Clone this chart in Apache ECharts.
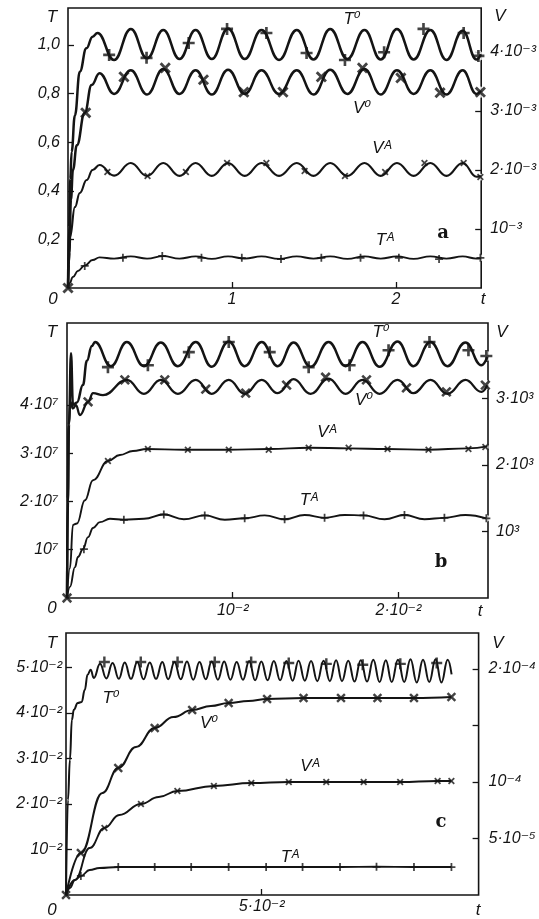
<!DOCTYPE html>
<html lang="en">
<head>
<meta charset="UTF-8">
<title>T, V (t)</title>
<script src="https://cdn.jsdelivr.net/npm/echarts@6/dist/echarts.min.js"></script>
<style>
  html, body { margin: 0; background: #fff; }
  #box { width: 539px; height: 919px; }
</style>
</head>
<body>
<div id="box"></div>
<script>
// ---- panel a ----
var aT0 = [[0,0],[0.006,0.25],[0.014,0.45],[0.022,0.56],[0.042,0.71],[0.072,0.89],[0.112,0.986],[0.150,1.034],[0.180,1.049],
  [0.281,0.938],[0.383,1.066],[0.482,0.945],[0.581,1.062],[0.680,0.942],[0.778,1.062],[0.877,0.942],[0.976,1.068],[1.078,0.942],
  [1.180,1.062],[1.287,0.938],[1.395,1.062],[1.497,0.940],[1.599,1.066],[1.704,0.942],[1.808,1.062],[1.907,0.940],[2.006,1.066],
  [2.108,0.940],[2.210,1.062],[2.308,0.938],[2.407,1.058],[2.491,0.940],[2.518,0.962]];
var aT0Marks = [[0.251,0.959],[0.479,0.947],[0.736,1.008],[0.970,1.066],[1.210,1.049],[1.455,0.967],[1.689,0.938],[1.928,0.970],[2.168,1.066],[2.413,1.049],[2.503,0.955]];
var aV0 = [[0,0],[0.008,0.6e-3],[0.018,1.5e-3],[0.030,2.0e-3],[0.054,2.42e-3],[0.102,2.97e-3],[0.144,3.44e-3],[0.192,3.64e-3],
  [0.281,3.29e-3],[0.383,3.69e-3],[0.482,3.28e-3],[0.581,3.71e-3],[0.680,3.29e-3],[0.778,3.69e-3],[0.877,3.28e-3],[0.976,3.70e-3],
  [1.078,3.29e-3],[1.180,3.69e-3],[1.287,3.29e-3],[1.395,3.69e-3],[1.497,3.28e-3],[1.599,3.70e-3],[1.704,3.29e-3],[1.808,3.71e-3],
  [1.907,3.28e-3],[2.006,3.69e-3],[2.108,3.29e-3],[2.210,3.69e-3],[2.308,3.28e-3],[2.407,3.69e-3],[2.491,3.29e-3],[2.518,3.34e-3]];
var aV0Marks = [[0,0],[0.108,2.97e-3],[0.341,3.58e-3],[0.593,3.73e-3],[0.826,3.53e-3],[1.072,3.32e-3],[1.311,3.32e-3],[1.545,3.58e-3],[1.796,3.73e-3],[2.030,3.56e-3],[2.269,3.31e-3],[2.515,3.32e-3]];
var aVA = [[0,0],[0.006,0.4e-3],[0.012,0.86e-3],[0.042,1.37e-3],[0.072,1.61e-3],[0.114,1.83e-3],[0.150,2.0e-3],[0.192,2.085e-3],
  [0.281,1.905e-3],[0.383,2.12e-3],[0.482,1.898e-3],[0.581,2.12e-3],[0.680,1.90e-3],[0.778,2.12e-3],[0.877,1.90e-3],[0.976,2.12e-3],
  [1.078,1.90e-3],[1.180,2.12e-3],[1.287,1.90e-3],[1.395,2.12e-3],[1.497,1.90e-3],[1.599,2.12e-3],[1.704,1.898e-3],[1.808,2.12e-3],
  [1.907,1.90e-3],[2.006,2.12e-3],[2.108,1.90e-3],[2.210,2.12e-3],[2.308,1.90e-3],[2.407,2.12e-3],[2.491,1.885e-3],[2.518,1.90e-3]];
var aVAMarks = [[0.240,1.966e-3],[0.485,1.898e-3],[0.719,1.966e-3],[0.970,2.119e-3],[1.210,2.119e-3],[1.443,1.983e-3],[1.689,1.898e-3],[1.934,1.966e-3],[2.174,2.119e-3],[2.413,2.119e-3],[2.515,1.881e-3]];
var aTA = [[0,0],[0.010,0.02],[0.030,0.045],[0.060,0.07],[0.102,0.092],[0.150,0.115],[0.192,0.126],[0.281,0.121],[0.383,0.130],
  [0.482,0.121],[0.581,0.131],[0.680,0.121],[0.778,0.130],[0.877,0.120],[0.976,0.130],[1.078,0.121],[1.180,0.130],[1.287,0.120],
  [1.395,0.130],[1.497,0.121],[1.599,0.130],[1.704,0.120],[1.808,0.130],[1.907,0.121],[2.006,0.130],[2.108,0.120],[2.210,0.130],
  [2.308,0.121],[2.407,0.130],[2.491,0.121],[2.518,0.123]];
var aTAMarks = [[0.102,0.091],[0.335,0.124],[0.575,0.132],[0.814,0.124],[1.060,0.124],[1.299,0.119],[1.545,0.124],[1.784,0.124],[2.018,0.124],[2.263,0.119],[2.515,0.124]];

// ---- panel b ----
var bT0 = [[0,0],[0.00006,2.0e7],[0.00012,3.6e7],[0.00024,5.07e7],[0.00036,4.0e7],[0.0006,4.05e7],[0.00096,4.41e7],[0.0012,4.91e7],[0.0015,5.22e7],[0.00169,5.30e7],
  [0.00265,4.80e7],[0.00361,5.30e7],[0.00464,4.80e7],[0.00566,5.29e7],[0.00669,4.80e7],[0.00777,5.30e7],[0.00873,4.79e7],[0.00976,5.31e7],
  [0.01072,4.80e7],[0.01175,5.30e7],[0.01271,4.80e7],[0.01367,5.29e7],[0.0147,4.79e7],[0.01578,5.30e7],[0.01681,4.80e7],[0.01783,5.30e7],
  [0.01886,4.79e7],[0.01994,5.31e7],[0.0209,4.80e7],[0.02193,5.30e7],[0.02295,4.80e7],[0.02404,5.29e7],[0.0250,4.82e7],[0.02536,4.99e7]];
var bT0Marks = [[0.00247,4.78e7],[0.00488,4.82e7],[0.00735,5.09e7],[0.00976,5.30e7],[0.01223,5.09e7],[0.01458,4.78e7],[0.01705,4.82e7],[0.0194,5.13e7],[0.02187,5.30e7],[0.02422,5.13e7],[0.0253,5.01e7]];
var bV0 = [[0,0],[0.00004,1.5e3],[0.0001,2.6e3],[0.0002,2.95e3],[0.00036,2.85e3],[0.00054,2.9e3],[0.00078,2.75e3],[0.00127,2.95e3],[0.00157,3.08e3],[0.00217,3.05e3],
  [0.00361,3.28e3],[0.00464,3.07e3],[0.00566,3.28e3],[0.00669,3.07e3],[0.00777,3.28e3],[0.00873,3.07e3],[0.00976,3.28e3],[0.01072,3.07e3],
  [0.01175,3.28e3],[0.01271,3.08e3],[0.01367,3.29e3],[0.0147,3.07e3],[0.01578,3.30e3],[0.01681,3.07e3],[0.01783,3.28e3],[0.01886,3.07e3],
  [0.01994,3.28e3],[0.0209,3.08e3],[0.02193,3.28e3],[0.02295,3.07e3],[0.02404,3.28e3],[0.0250,3.10e3],[0.02536,3.20e3]];
var bV0Marks = [[0,0],[0.00127,2.95e3],[0.00349,3.28e3],[0.0059,3.28e3],[0.00837,3.14e3],[0.01078,3.08e3],[0.01325,3.20e3],[0.0156,3.32e3],[0.01807,3.28e3],[0.02048,3.16e3],[0.02289,3.10e3],[0.02524,3.20e3]];
var bVA = [[0,0],[0.00018,0.45e3],[0.00036,1.1e3],[0.0006,1.12e3],[0.00108,1.47e3],[0.00157,1.77e3],[0.00247,2.06e3],[0.00319,2.15e3],[0.00398,2.21e3],
  [0.00482,2.24e3],[0.0070,2.23e3],[0.0097,2.23e3],[0.0122,2.24e3],[0.0146,2.26e3],[0.0170,2.25e3],[0.0193,2.24e3],[0.0218,2.23e3],[0.0242,2.25e3],[0.02536,2.28e3]];
var bVAMarks = [[0.00247,2.06e3],[0.00488,2.24e3],[0.00729,2.23e3],[0.00976,2.23e3],[0.01217,2.23e3],[0.01458,2.26e3],[0.01699,2.26e3],[0.01934,2.24e3],[0.02181,2.23e3],[0.02422,2.24e3],[0.02524,2.27e3]];
var bTA = [[0,0],[0.00018,0.23e7],[0.00048,0.64e7],[0.00066,0.85e7],[0.00096,1.01e7],[0.00127,1.26e7],[0.00157,1.45e7],[0.00199,1.57e7],[0.00259,1.64e7],
  [0.00343,1.62e7],[0.00464,1.64e7],[0.00584,1.73e7],[0.00705,1.63e7],[0.00831,1.71e7],[0.00952,1.62e7],[0.01072,1.65e7],[0.01193,1.71e7],
  [0.01313,1.63e7],[0.01434,1.72e7],[0.01554,1.66e7],[0.01675,1.72e7],[0.01789,1.71e7],[0.01916,1.63e7],[0.02036,1.72e7],[0.02157,1.63e7],
  [0.02277,1.66e7],[0.02404,1.72e7],[0.0253,1.65e7]];
var bTAMarks = [[0.00102,1.01e7],[0.00343,1.62e7],[0.00584,1.73e7],[0.00831,1.71e7],[0.01072,1.65e7],[0.01313,1.63e7],[0.01554,1.66e7],[0.01789,1.71e7],[0.02036,1.72e7],[0.02277,1.66e7],[0.0253,1.65e7]];

// ---- panel c ----
var cT0 = [[0,0],[0.0005,2.09e-2],[0.001,2.97e-2],[0.0015,3.85e-2],[0.002,4.07e-2],[0.003,4.22e-2],[0.004,4.24e-2],[0.0048,4.51e-2],[0.0055,4.84e-2],[0.0063,4.95e-2],[0.0071,4.77e-2],
  [0.0087,5.08e-2],[0.0103,4.76e-2],[0.0119,5.10e-2],[0.0135,4.75e-2],[0.0150,5.11e-2],[0.0166,4.75e-2],[0.0182,5.12e-2],[0.0198,4.74e-2],
  [0.0214,5.11e-2],[0.0230,4.75e-2],[0.0246,5.12e-2],[0.0261,4.74e-2],[0.0277,5.12e-2],[0.0293,4.74e-2],[0.0309,5.13e-2],[0.0325,4.73e-2],
  [0.0341,5.12e-2],[0.0357,4.74e-2],[0.0372,5.13e-2],[0.0388,4.73e-2],[0.0404,5.13e-2],[0.0420,4.73e-2],[0.0436,5.12e-2],[0.0452,4.73e-2],
  [0.0468,5.14e-2],[0.0483,4.72e-2],[0.0499,5.13e-2],[0.0515,4.72e-2],[0.0531,5.14e-2],[0.0547,4.72e-2],[0.0563,5.14e-2],[0.0579,4.71e-2],
  [0.0594,5.15e-2],[0.0610,4.71e-2],[0.0626,5.14e-2],[0.0642,4.70e-2],[0.0658,5.15e-2],[0.0674,4.70e-2],[0.0690,5.16e-2],[0.0705,4.70e-2],
  [0.0721,5.15e-2],[0.0737,4.69e-2],[0.0753,5.16e-2],[0.0769,4.69e-2],[0.0785,5.17e-2],[0.0801,4.68e-2],[0.0817,5.16e-2],[0.0832,4.68e-2],
  [0.0848,5.17e-2],[0.0864,4.68e-2],[0.0880,5.18e-2],[0.0896,4.67e-2],[0.0912,5.17e-2],[0.0928,4.68e-2],[0.0944,5.18e-2],[0.0959,4.67e-2],
  [0.0975,5.17e-2],[0.0985,4.85e-2]];
var cT0Marks = [[0.0098,5.12e-2],[0.0191,5.12e-2],[0.0285,5.12e-2],[0.0380,5.12e-2],[0.0473,5.12e-2],[0.0569,5.10e-2],[0.0665,5.08e-2],[0.0758,5.06e-2],[0.0854,5.08e-2],[0.0947,5.10e-2]];
var cV0 = [[0,0],[0.0038,0.372e-4],[0.0093,0.903e-4],[0.01335,1.124e-4],[0.01788,1.31e-4],[0.02266,1.478e-4],[0.02745,1.575e-4],[0.03223,1.637e-4],
  [0.03701,1.673e-4],[0.04155,1.699e-4],[0.04658,1.717e-4],[0.05137,1.735e-4],[0.06068,1.743e-4],[0.07025,1.743e-4],[0.07957,1.743e-4],[0.08889,1.743e-4],[0.09846,1.752e-4]];
var cV0Marks = [[0,0],[0.0038,0.372e-4],[0.01335,1.124e-4],[0.02266,1.478e-4],[0.03223,1.637e-4],[0.04155,1.699e-4],[0.05137,1.735e-4],[0.06068,1.743e-4],[0.07025,1.743e-4],[0.07957,1.743e-4],[0.08889,1.743e-4],[0.09846,1.752e-4]];
var cVA = [[0,0],[0.00227,0.133e-4],[0.00604,0.416e-4],[0.00982,0.593e-4],[0.0136,0.708e-4],[0.01914,0.805e-4],[0.02367,0.867e-4],[0.02845,0.920e-4],
  [0.03777,0.965e-4],[0.04734,0.991e-4],[0.05691,1.0e-4],[0.06648,1.0e-4],[0.07604,1.0e-4],[0.08536,1.0e-4],[0.09493,1.009e-4],[0.09845,1.009e-4]];
var cVAMarks = [[0.00982,0.593e-4],[0.01914,0.805e-4],[0.02845,0.920e-4],[0.03777,0.965e-4],[0.04734,0.991e-4],[0.05691,1.0e-4],[0.06648,1.0e-4],[0.07604,1.0e-4],[0.08536,1.0e-4],[0.09493,1.009e-4],[0.09845,1.009e-4]];
var cTA = [[0,0],[0.001,0.154e-2],[0.00227,0.33e-2],[0.0038,0.418e-2],[0.00604,0.55e-2],[0.00856,0.593e-2],[0.01335,0.615e-2],[0.02266,0.615e-2],
  [0.03198,0.615e-2],[0.04155,0.615e-2],[0.05112,0.615e-2],[0.06043,0.615e-2],[0.07,0.615e-2],[0.07932,0.62e-2],[0.08889,0.615e-2],[0.09846,0.615e-2]];
var cTAMarks = [[0.0038,0.418e-2],[0.01335,0.615e-2],[0.02266,0.615e-2],[0.03198,0.615e-2],[0.04155,0.615e-2],[0.05112,0.615e-2],[0.06043,0.615e-2],[0.07,0.615e-2],[0.07932,0.62e-2],[0.08889,0.615e-2],[0.09846,0.615e-2]];

// ---- ticks and tick labels ----
var aXTicks = [1, 2], aXLabels = ['1', '2'];
var aLTicks = [0.2, 0.4, 0.6, 0.8, 1.0], aLLabels = ['0,2', '0,4', '0,6', '0,8', '1,0'];
var aRTicks = [1e-3, 2e-3, 3e-3, 4e-3], aRLabels = ['10⁻³', '2·10⁻³', '3·10⁻³', '4·10⁻³'];
var bXTicks = [0.01, 0.02], bXLabels = ['10⁻²', '2·10⁻²'];
var bLTicks = [1e7, 2e7, 3e7, 4e7], bLLabels = ['10⁷', '2·10⁷', '3·10⁷', '4·10⁷'];
var bRTicks = [1e3, 2e3, 3e3], bRLabels = ['10³', '2·10³', '3·10³'];
var cXTicks = [0.05], cXLabels = ['5·10⁻²'];
var cLTicks = [1e-2, 2e-2, 3e-2, 4e-2, 5e-2], cLLabels = ['10⁻²', '2·10⁻²', '3·10⁻²', '4·10⁻²', '5·10⁻²'];
var cRTicks = [5e-5, 1e-4, 1.5e-4, 2e-4], cRLabels = ['5·10⁻⁵', '10⁻⁴', '', '2·10⁻⁴'];

var INK = '#141414';
var FONT = '"Liberation Sans", "DejaVu Sans", sans-serif';
var PLUS = 'path://M3.9,0H6.1V3.9H10V6.1H6.1V10H3.9V6.1H0V3.9H3.9Z';

function lab(ticks, labels) {
    return function (v) {
        for (var i = 0; i < ticks.length; i++) {
            if (Math.abs(ticks[i] - v) < Math.abs(ticks[i]) * 1e-6) return labels[i];
        }
        return '';
    };
}

function xAx(g, max, ticks, labels, margin) {
    return {
        gridIndex: g, type: 'value', min: 0, max: max,
        axisLine: { show: false }, splitLine: { show: false },
        axisTick: { inside: true, length: 6, customValues: ticks, lineStyle: { color: INK, width: 1.3 } },
        axisLabel: { customValues: ticks, formatter: lab(ticks, labels), margin: margin, color: INK,
            fontStyle: 'italic', fontSize: 16, fontFamily: FONT }
    };
}

function yAx(g, pos, max, ticks, labels, margin) {
    return {
        gridIndex: g, type: 'value', position: pos, min: 0, max: max,
        axisLine: { show: false }, splitLine: { show: false },
        axisTick: { inside: true, length: 6, customValues: ticks, lineStyle: { color: INK, width: 1.3 } },
        axisLabel: { customValues: ticks.filter(function (t, i) { return labels[i] !== ''; }), formatter: lab(ticks, labels),
            margin: margin, color: INK, fontStyle: 'italic', fontSize: 16, fontFamily: FONT }
    };
}

function curve(g, y, data, w) {
    return {
        type: 'line', xAxisIndex: g, yAxisIndex: y, data: data, showSymbol: false, symbol: 'none',
        smooth: 0.45, smoothMonotone: 'x', silent: true,
        lineStyle: { color: INK, width: w }
    };
}

// marker on top of a small white disc, so the curve is broken at each mark as in the print
function marks(g, y, data, rot, size, halo) {
    var out = [];
    if (halo) {
        out.push({
            type: 'scatter', xAxisIndex: g, yAxisIndex: y, silent: true, z: 2,
            data: data.filter(function (p) { return p[0] > 0; }),
            symbol: 'circle', symbolSize: size * 0.85, itemStyle: { color: '#fff' }
        });
    }
    out.push({
        type: 'scatter', xAxisIndex: g, yAxisIndex: y, data: data, symbol: PLUS, symbolSize: size,
        symbolRotate: rot, silent: true, z: 3, itemStyle: { color: INK }
    });
    return out;
}

// text set by hand: axis names, curve names, panel letters
var notes = [
    ['T', 52, 17, 0], ['V', 500, 16, 0], ['0', 53, 299, 0], ['t', 483, 299, 0],
    ['T⁰', 352, 19, 0], ['V⁰', 362, 108, 0], ['Vᴬ', 382, 148, 0], ['Tᴬ', 385, 240, 0], ['a', 443, 233, 1],
    ['T', 52, 332, 0], ['V', 502, 332, 0], ['0', 52, 608, 0], ['t', 480, 611, 0],
    ['T⁰', 381, 332, 0], ['V⁰', 364, 400, 0], ['Vᴬ', 327, 432, 0], ['Tᴬ', 309, 500, 0], ['b', 441, 562, 1],
    ['T', 52, 643, 0], ['V', 498, 643, 0], ['0', 52, 910, 0], ['t', 478, 910, 0],
    ['T⁰', 111, 698, 0], ['V⁰', 209, 723, 0], ['Vᴬ', 310, 766, 0], ['Tᴬ', 290, 857, 0], ['c', 441, 822, 1]
];

var chartDom = document.getElementById('box');
var myChart = echarts.init(chartDom);

var frame = { show: true, borderColor: INK, borderWidth: 1.6, backgroundColor: 'transparent' };
var series = [].concat(
    curve(0, 0, aT0, 2.5), marks(0, 0, aT0Marks, 0, 12, true),
    curve(0, 1, aV0, 2.5), marks(0, 1, aV0Marks, 45, 13, true),
    curve(0, 1, aVA, 2.1), marks(0, 1, aVAMarks, 45, 8, true),
    curve(0, 0, aTA, 1.9), marks(0, 0, aTAMarks, 0, 8, true),
    curve(1, 2, bT0, 2.5), marks(1, 2, bT0Marks, 0, 12, true),
    curve(1, 3, bV0, 2.3), marks(1, 3, bV0Marks, 45, 12, true),
    curve(1, 3, bVA, 1.9), marks(1, 3, bVAMarks, 45, 8, true),
    curve(1, 2, bTA, 1.9), marks(1, 2, bTAMarks, 0, 8, true),
    curve(2, 4, cT0, 2.0), marks(2, 4, cT0Marks, 0, 11, false),
    curve(2, 5, cV0, 2.0), marks(2, 5, cV0Marks, 45, 11, true),
    curve(2, 5, cVA, 1.9), marks(2, 5, cVAMarks, 45, 8, true),
    curve(2, 4, cTA, 1.9), marks(2, 4, cTAMarks, 0, 8, true)
);

var option = {
    animation: false,
    backgroundColor: '#fff',
    grid: [
        Object.assign({ left: 68, top: 8, width: 421, height: 280 }, frame),
        Object.assign({ left: 67, top: 323, width: 421, height: 275 }, frame),
        Object.assign({ left: 66, top: 633, width: 419, height: 262 }, frame)
    ],
    xAxis: [
        xAx(0, 2.52, aXTicks, aXLabels, 4),
        xAx(1, 0.0254, bXTicks, bXLabels, 5),
        xAx(2, 0.1054, cXTicks, cXLabels, 4)
    ],
    yAxis: [
        yAx(0, 'left', 1.152, aLTicks, aLLabels, 8),
        yAx(0, 'right', 4.746e-3, aRTicks, aRLabels, 9),
        yAx(1, 'left', 5.694e7, bLTicks, bLLabels, 9),
        yAx(1, 'right', 4.135e3, bRTicks, bRLabels, 8),
        yAx(2, 'left', 5.758e-2, cLTicks, cLLabels, 4),
        yAx(2, 'right', 2.319e-4, cRTicks, cRLabels, 10)
    ],
    series: series,
    graphic: notes.map(function (n) {
        return {
            type: 'text', x: n[1], y: n[2], silent: true,
            style: {
                text: n[0], fill: INK, align: 'center', verticalAlign: 'middle',
                font: n[3] ? 'bold 18px "DejaVu Serif", serif' : 'italic 17px ' + FONT
            }
        };
    })
};

option && myChart.setOption(option);
</script>
</body>
</html>
